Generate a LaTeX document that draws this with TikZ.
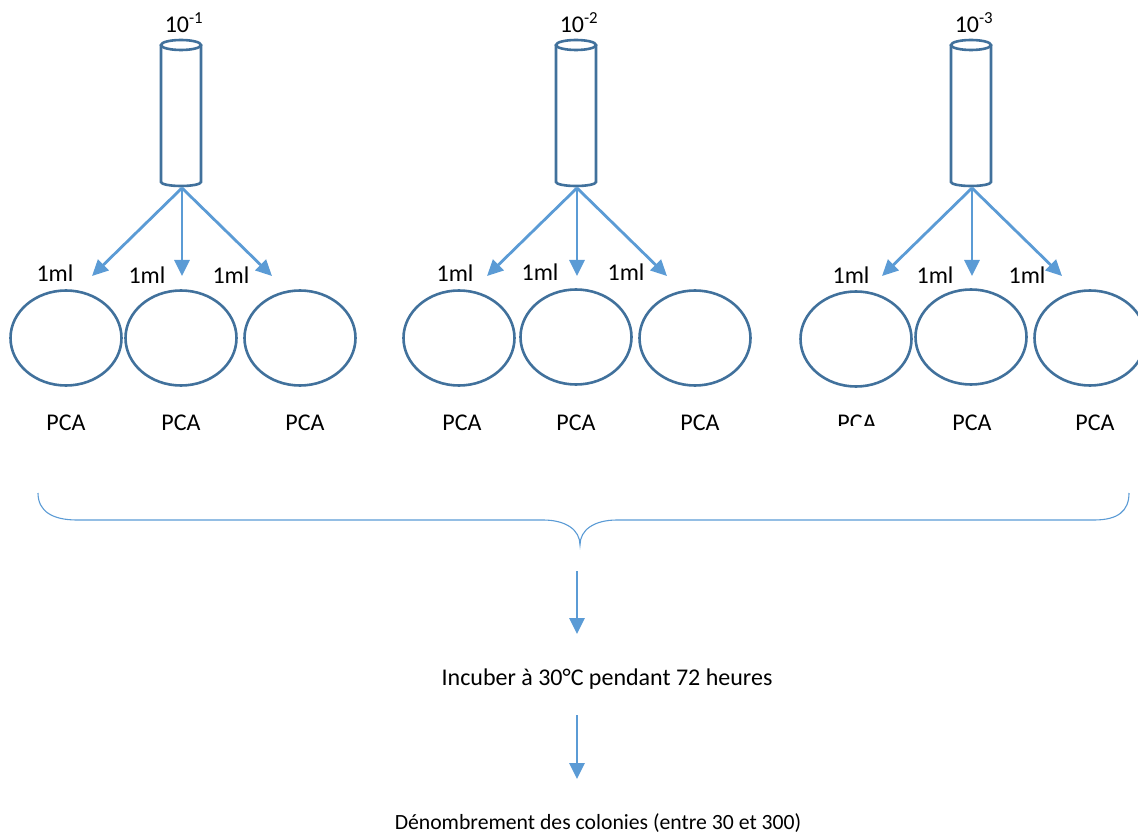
\documentclass[tikz,border=0pt]{standalone}
\usepackage{fontspec}
\setmainfont{Carlito}
\usetikzlibrary{arrows.meta,shapes.geometric}
\definecolor{dk}{HTML}{41719C}
\definecolor{lt}{HTML}{5B9BD5}
\begin{document}
\begin{tikzpicture}[x=1pt,y=-1pt,
  dish/.style={draw=dk,line width=2.6pt,ellipse,minimum width=111pt,minimum height=95pt,inner sep=0pt},
  txt/.style={font=\fontsize{24}{29}\selectfont,inner sep=0pt,anchor=base},
  flow/.style={draw=lt,line width=2.8pt,-{Triangle[length=16pt,width=15pt]}},
  tubeline/.style={draw=dk,line width=2.6pt},
  bracestyle/.style={draw=lt,line width=1.1pt}]
\useasboundingbox (0,0) rectangle (1138,834);
% tubes
\foreach \cx/\lab/\g in {181/1/a,576/2/b,971/3/c}{
  \node[txt] (lab\g) at (\cx+3,33) {10\textsuperscript{-\lab}};
  \draw[tubeline,fill=white] (\cx-20,45) -- (\cx-20,182) arc[start angle=180,end angle=360,x radius=20pt,y radius=4pt] -- (\cx+20,45);
  \draw[tubeline,fill=white] (\cx,45) ellipse[x radius=20pt,y radius=5pt];
  \coordinate (t\g) at (\cx+1,188);
}
% arrows to dishes
\foreach \g/\cx in {a/181,b/576,c/971}{
  \coordinate (e\g1) at (\cx-89,276);
  \coordinate (e\g2) at (\cx+1,276);
  \coordinate (e\g3) at (\cx+91,276);
  \draw[flow] (t\g) -- (e\g1);
  \draw[flow] (t\g) -- (e\g2);
  \draw[flow] (t\g) -- (e\g3);
}
% dishes
\node[dish] (da1) at (66,338) {};
\node[dish] (da2) at (181,338) {};
\node[dish] (da3) at (300,338) {};
\node[dish] (db1) at (459,338) {};
\node[dish] (db2) at (576,337) {};
\node[dish] (db3) at (695,338) {};
\node[dish] (dc1) at (856,339) {};
\node[dish] (dc2) at (971,337) {};
\node[dish] (dc3) at (1090,338) {};
% 1ml labels
\node[txt] (ma1) at (55,282) {1ml};
\node[txt] (ma2) at (147,284) {1ml};
\node[txt] (ma3) at (231,284) {1ml};
\node[txt] (mb1) at (455,282) {1ml};
\node[txt] (mb2) at (540,281) {1ml};
\node[txt] (mb3) at (626,281) {1ml};
\node[txt] (mc1) at (851,284) {1ml};
\node[txt] (mc2) at (935,284) {1ml};
\node[txt] (mc3) at (1027,284) {1ml};
% PCA labels
\node[txt] (pa1) at (66,430) {PCA};
\node[txt] (pa2) at (181,430) {PCA};
\node[txt] (pa3) at (305,430) {PCA};
\node[txt] (pb1) at (462,430) {PCA};
\node[txt] (pb2) at (576,430) {PCA};
\node[txt] (pb3) at (700,430) {PCA};
\begin{scope}
  \clip (820,400) rectangle (900,425);
  \node[txt] (pc1) at (857,430) {PCA};
\end{scope}
\node[txt] (pc2) at (972,430) {PCA};
\node[txt] (pc3) at (1095,430) {PCA};
% brace
\coordinate (bl) at (38,493);
\coordinate (br) at (1129,493);
\coordinate (btip) at (580,545);
\draw[bracestyle] (bl) .. controls (38,511) and (52,520) .. (77,520) -- (543,520)
  .. controls (566,520) and (580,530) .. (btip)
  .. controls (580,530) and (594,520) .. (617,520) -- (1094,520)
  .. controls (1118,520) and (1129,511) .. (br);
% lower flow
\coordinate (s1) at (577,571);
\coordinate (f1) at (577,634);
\coordinate (s2) at (577,715);
\coordinate (f2) at (577,779);
\draw[flow] (s1) -- (f1);
\draw[flow] (s2) -- (f2);
\node[txt] (inc) at (607,685) {Incuber à 30°C pendant 72 heures};
\node[txt,font=\fontsize{21.7}{26}\selectfont] (den) at (598,829) {Dénombrement des colonies (entre 30 et 300)};
\end{tikzpicture}
\end{document}
